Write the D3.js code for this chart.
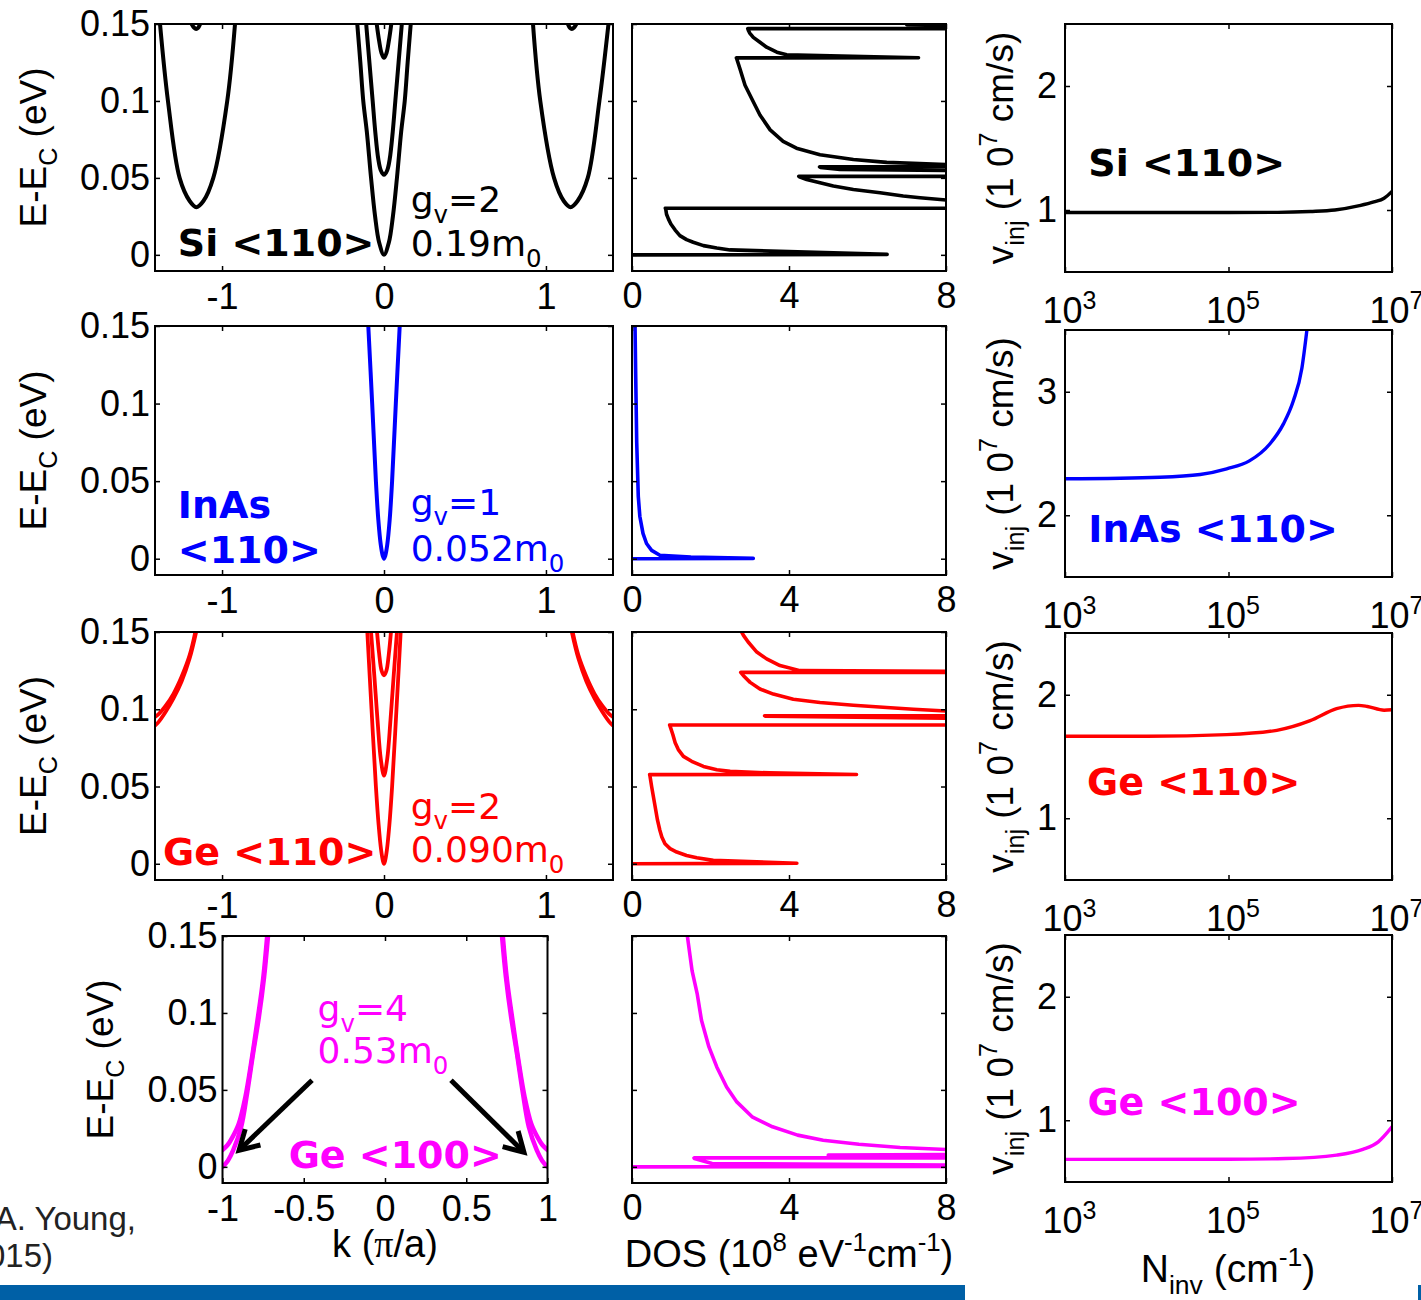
<!DOCTYPE html>
<html>
<head>
<meta charset="utf-8">
<script src="https://cdn.jsdelivr.net/npm/d3@7"></script>
<style>
  body { margin: 0; background: #fff; }
  svg { display: block; }
  .tick text { font-family: "Liberation Sans", Arial, sans-serif; font-size: 36px; fill: #000; }
  .tick line { stroke-width: 1.5px; }
  .lbl { font-family: "Liberation Sans", Arial, sans-serif; font-size: 37px; fill: #000; }
  .tag { font-family: "DejaVu Sans", Verdana, sans-serif; font-weight: bold; font-size: 38px; }
  .note { font-family: "DejaVu Sans", Verdana, sans-serif; font-size: 36px; }
  .cite { font-family: "Liberation Sans", Arial, sans-serif; font-size: 33px; fill: #222; }
</style>
</head>
<body>
<svg id="fig" width="1421" height="1300"></svg>
<script>
// ---------------- tick values ----------------
const eTicks = [0, 0.05, 0.1, 0.15];
const k110Ticks = [-1, 0, 1];
const k100Ticks = [-1, -0.5, 0, 0.5, 1];
const dosTicks = [0, 4, 8];
const nTicks = [1e3, 1e5, 1e7];
const vTicksSi = [1, 2];
const vTicksInAs = [2, 3];
const vTicksGe110 = [1, 2];
const vTicksGe100 = [1, 2];

// ---------------- E-k subbands: [k (pi/a), E-Ec (eV)] ----------------
// Si <110>
const siSub1 = [[-0.165,0.15],[-0.146,0.125],[-0.128,0.1],[-0.106,0.08],[-0.08,0.05],[-0.055,0.025],[-0.03,0.008],[0,0],
                [0.03,0.008],[0.055,0.025],[0.08,0.05],[0.106,0.08],[0.128,0.1],[0.146,0.125],[0.165,0.15]];
const siSub2 = [[-0.11,0.15],[-0.09,0.125],[-0.07,0.1],[-0.054,0.08],[-0.035,0.062],[-0.02,0.055],[0,0.052],
                [0.02,0.055],[0.035,0.062],[0.054,0.08],[0.07,0.1],[0.09,0.125],[0.11,0.15]];
const siSub3 = [[-0.045,0.15],[-0.03,0.139],[-0.015,0.131],[0,0.128],[0.015,0.131],[0.03,0.139],[0.045,0.15]];
const siSideL = [[-1.383,0.15],[-1.334,0.1],[-1.262,0.05],[-1.2,0.035],[-1.159,0.031],[-1.115,0.035],[-1.054,0.05],[-0.968,0.1],[-0.92,0.15]];
const siSideR = [[0.92,0.15],[0.965,0.1],[1.05,0.05],[1.11,0.035],[1.152,0.031],[1.195,0.035],[1.258,0.05],[1.33,0.1],[1.386,0.15]];
const siTopL = [[-1.188,0.15],[-1.172,0.1475],[-1.16,0.1468],[-1.148,0.1475],[-1.135,0.15]];
const siTopR = [[1.135,0.15],[1.148,0.1475],[1.16,0.1468],[1.172,0.1475],[1.188,0.15]];

// InAs <110>
const inasSub1 = [[-0.097,0.15],[-0.073,0.1],[-0.05,0.05],[-0.035,0.025],[-0.02,0.009],[-0.008,0.002],[0,0],
                  [0.008,0.002],[0.02,0.009],[0.035,0.025],[0.05,0.05],[0.073,0.1],[0.097,0.15]];

// Ge <110>
const geSub1 = [[-0.103,0.15],[-0.077,0.1],[-0.05,0.05],[-0.033,0.025],[-0.018,0.009],[-0.007,0.002],[0,0],
                [0.007,0.002],[0.018,0.009],[0.033,0.025],[0.05,0.05],[0.077,0.1],[0.103,0.15]];
const geSub2 = [[-0.08,0.15],[-0.06,0.122],[-0.04,0.093],[-0.02,0.068],[0,0.057],[0.02,0.068],[0.04,0.093],[0.06,0.122],[0.08,0.15]];
const geSub3 = [[-0.043,0.15],[-0.03,0.136],[-0.015,0.125],[0,0.122],[0.015,0.125],[0.03,0.136],[0.043,0.15]];
const geEdgeL1 = [[-1.414,0.0895],[-1.39,0.092],[-1.35,0.098],[-1.3,0.107],[-1.25,0.118],[-1.2,0.133],[-1.16,0.15]];
const geEdgeL2 = [[-1.414,0.095],[-1.39,0.097],[-1.35,0.102],[-1.3,0.11],[-1.25,0.121],[-1.2,0.135],[-1.165,0.15]];
const geEdgeR1 = [[1.16,0.15],[1.2,0.133],[1.25,0.118],[1.3,0.107],[1.35,0.098],[1.39,0.092],[1.414,0.0895]];
const geEdgeR2 = [[1.165,0.15],[1.2,0.135],[1.25,0.121],[1.3,0.11],[1.35,0.102],[1.39,0.097],[1.414,0.095]];

// Ge <100>
const ge100L1 = [[-1,0],[-0.967,0.004],[-0.934,0.0108],[-0.885,0.026],[-0.849,0.0476],[-0.812,0.0736],[-0.776,0.0974],[-0.744,0.1234],[-0.72,0.15]];
const ge100L2 = [[-1,0.011],[-0.97,0.014],[-0.94,0.019],[-0.9,0.028],[-0.86,0.045],[-0.82,0.07],[-0.785,0.095],[-0.75,0.122],[-0.725,0.15]];
const ge100R1 = [[0.72,0.15],[0.744,0.1234],[0.776,0.0974],[0.812,0.0736],[0.849,0.0476],[0.885,0.026],[0.934,0.0108],[0.967,0.004],[1,0]];
const ge100R2 = [[0.725,0.15],[0.75,0.122],[0.785,0.095],[0.82,0.07],[0.86,0.045],[0.9,0.028],[0.94,0.019],[0.97,0.014],[1,0.011]];

// ---------------- density of states: [DOS (1e8 /eV/cm), E-Ec (eV)] ----------------
const siDos = [[0,0],[6.5,0.0003],[2.5,0.0032],[2.16,0.0045],[1.82,0.006],[1.56,0.0082],[1.39,0.0099],[1.22,0.0125],[1.1,0.0161],
  [0.99,0.02],[0.93,0.0232],[0.88,0.0264],[0.86,0.0296],[0.85,0.0303],
  [9,0.0303],[9,0.0345],[8,0.0356],[7.34,0.0371],[6.91,0.0382],[6.32,0.0404],[5.64,0.0425],[5.13,0.0447],[4.79,0.0468],[4.45,0.049],[4.28,0.0505],[4.25,0.051],
  [9,0.051],[9,0.0545],[5.3,0.0555],[4.8,0.0568],[4.78,0.0572],[9,0.0572],[9,0.058],
  [8,0.0587],[6.49,0.0601],[5.64,0.0619],[4.79,0.0651],[4.19,0.0693],[3.85,0.0737],[3.52,0.0812],[3.26,0.0909],[3.09,0.0995],
  [2.88,0.1102],[2.75,0.1209],[2.67,0.1273],[2.66,0.128],
  [7.3,0.1281],[3.94,0.13],[3.69,0.1317],[3.43,0.1349],[3.26,0.1381],[3.09,0.1413],[3.0,0.1441],[2.97,0.1456],[2.95,0.147],
  [9,0.147],[9,0.1488],[7,0.1495],[9,0.1505]];
const inasDos = [[0,0],[3.09,0.0002],[1.5,0.001],[0.71,0.0022],[0.5,0.0054],[0.37,0.0098],[0.28,0.0163],[0.2,0.0272],
  [0.16,0.0402],[0.12,0.0751],[0.094,0.1185],[0.076,0.152]];
const geDos = [[0,0],[4.2,0.0003],[2.07,0.0022],[1.65,0.0039],[1.39,0.0054],[1.14,0.0076],[0.97,0.0098],[0.84,0.013],[0.76,0.0174],
  [0.71,0.0217],[0.65,0.0282],[0.59,0.0369],[0.5,0.05],[0.46,0.0565],[0.45,0.0577],
  [5.72,0.0578],[3.5,0.0588],[2.5,0.0598],[2.16,0.0609],[1.82,0.063],[1.52,0.0663],[1.31,0.0695],[1.18,0.0739],[1.1,0.0783],
  [1.04,0.0837],[0.97,0.0891],[0.96,0.0898],
  [9,0.0898],[9,0.094],[3.4,0.0955],[3.38,0.0958],[9,0.0958],[9,0.0985],
  [8,0.0989],[7.17,0.1],[6.49,0.1011],[5.64,0.1026],[4.79,0.1044],[4.11,0.1065],[3.6,0.1098],[3.26,0.1131],[3.01,0.1174],
  [2.84,0.1217],[2.77,0.1239],
  [9,0.1239],[9,0.1245],[4.28,0.125],[3.77,0.1283],[3.43,0.1326],[3.18,0.137],[2.96,0.1435],[2.84,0.1478],[2.75,0.152]];
const ge100Dos = [[0,0],[9,0.0002],[9,0.001],[2.04,0.0022],[1.59,0.0054],[1.58,0.0058],[9,0.0058],[9,0.0072],[5.0,0.0076],[9,0.0082],
  [9,0.0108],[8,0.0113],[6.83,0.0126],[5.78,0.0147],[4.87,0.0173],[4.22,0.0206],[3.58,0.026],[3.06,0.0325],[2.67,0.0422],
  [2.41,0.0519],[2.16,0.0649],[1.96,0.0779],[1.77,0.0953],[1.66,0.1126],[1.53,0.1275],[1.4,0.152]];

// ---------------- injection velocity: [N_inv (cm^-1), v_inj (1e7 cm/s)] ----------------
const siVinj = [[1e3,0.98],[1e4,0.98],[1e5,0.98],[4e5,0.981],[1e6,0.988],[2e6,1.0],[4e6,1.035],[6e6,1.065],[8e6,1.095],[1e7,1.15]];
const inasVinj = [[1e3,2.295],[1.45e4,2.308],[4.5e4,2.33],[9.5e4,2.376],[1.8e5,2.44],[3.2e5,2.577],[4.7e5,2.74],[6.2e5,2.925],[7.9e5,3.19],[9.1e5,3.5]];
const geVinj = [[1e3,1.664],[1e4,1.664],[9.5e4,1.677],[3.9e5,1.712],[1e6,1.79],[2.1e6,1.887],[3.9e6,1.914],[5e6,1.905],[8e6,1.875],[1e7,1.878]];
const ge100Vinj = [[1e3,0.683],[1e5,0.684],[5e5,0.69],[2.1e6,0.718],[4.4e6,0.764],[6.8e6,0.825],[1e7,0.946]];

// ---------------- annotation arrows in Ge <100> E-k panel: [k, E] ----------------
const arrowLeft = [[-0.449,0.0563],[-0.898,0.0108]];
const arrowRight = [[0.406,0.0563],[0.855,0.0095]];

// ---------------- drawing ----------------
const svg = d3.select("#fig");
const defs = svg.append("defs");
let clipCount = 0;

function frame(x, y, o) {
  const [x0, x1] = x.range();
  const [yb, yt] = y.range();
  const g = svg.append("g");
  const id = "clip" + (clipCount++);
  defs.append("clipPath").attr("id", id)
    .append("rect").attr("x", x0).attr("y", yt).attr("width", x1 - x0).attr("height", yb - yt);
  const plot = g.append("g").attr("clip-path", `url(#${id})`);
  const ax = (gen, tr) => g.append("g").attr("transform", tr).call(gen).call(s => s.select(".domain").remove());
  const bottom = ax(d3.axisBottom(x).tickValues(o.xTicks).tickSizeInner(-5).tickSizeOuter(0)
      .tickPadding(o.xPad).tickFormat(o.xFmt || (d => String(d))), `translate(0,${yb})`);
  ax(d3.axisTop(x).tickValues(o.xTicks).tickSizeInner(-5).tickSizeOuter(0).tickFormat(() => ""), `translate(0,${yt})`);
  ax(d3.axisLeft(y).tickValues(o.yTicks).tickSizeInner(-5).tickSizeOuter(0)
      .tickPadding(o.yPad || 6).tickFormat(o.yLabels ? (d => String(d)) : () => ""), `translate(${x0},0)`);
  ax(d3.axisRight(y).tickValues(o.yTicks).tickSizeInner(-5).tickSizeOuter(0).tickFormat(() => ""), `translate(${x1},0)`);
  g.append("rect").attr("x", x0).attr("y", yt).attr("width", x1 - x0).attr("height", yb - yt)
    .attr("fill", "none").attr("stroke", "#000").attr("stroke-width", 2);
  return { g, plot, bottom };
}

function rich(t, base, parts) {
  let cur = 0;
  for (const [s, kind, fam] of parts) {
    const off = kind === "sub" ? 0.3 * base : kind === "sup" ? -0.42 * base : 0;
    const ts = t.append("tspan").attr("dy", off - cur).text(s);
    cur = off;
    if (kind) ts.style("font-size", (0.68 * base) + "px");
    if (fam) ts.style("font-family", fam);
  }
  return t;
}

function drawLines(plot, x, y, list, color, width, curve) {
  const line = d3.line().x(d => x(d[0])).y(d => y(d[1])).curve(curve);
  plot.selectAll(null).data(list).join("path")
    .attr("d", line).attr("fill", "none").attr("stroke", color)
    .attr("stroke-width", width).attr("stroke-linejoin", "round").attr("stroke-linecap", "round");
}

const rows = [
  { top: 24,  bot: 271,  vTop: 24,  vBot: 272 },
  { top: 326, bot: 575,  vTop: 330, vBot: 577 },
  { top: 632, bot: 880,  vTop: 633, vBot: 880 },
  { top: 936, bot: 1183, vTop: 935, vBot: 1182 }
];
const eDomain = [-0.0105, 0.15];

const materials = [
  { color: "#000000", kDom: [-1.414, 1.414], kRange: [155, 613], kTicks: k110Ticks, lw: 4,
    bands: [siSub1, siSub2, siSub3, siSideL, siSideR, siTopL, siTopR],
    dos: siDos, vinj: siVinj, vDom: [0.5, 2.5], vTicks: vTicksSi },
  { color: "#0000ff", kDom: [-1.414, 1.414], kRange: [155, 613], kTicks: k110Ticks, lw: 4,
    bands: [inasSub1], dos: inasDos, vinj: inasVinj, vDom: [1.5, 3.5], vTicks: vTicksInAs },
  { color: "#ff0000", kDom: [-1.414, 1.414], kRange: [155, 613], kTicks: k110Ticks, lw: 3.8,
    bands: [geSub1, geSub2, geSub3, geEdgeL1, geEdgeL2, geEdgeR1, geEdgeR2],
    dos: geDos, vinj: geVinj, vDom: [0.5, 2.5], vTicks: vTicksGe110 },
  { color: "#ff00ff", kDom: [-1, 1], kRange: [222.5, 547.5], kTicks: k100Ticks, lw: 4.5,
    bands: [ge100L1, ge100L2, ge100R1, ge100R2], dos: ge100Dos, vinj: ge100Vinj, vDom: [0.5, 2.5], vTicks: vTicksGe100 }
];

const scales = materials.map((m, i) => {
  const r = rows[i];
  const kx = d3.scaleLinear().domain(m.kDom).range(m.kRange);
  const ey = d3.scaleLinear().domain(eDomain).range([r.bot, r.top]);
  const dx = d3.scaleLinear().domain([0, 8]).range([632, 946]);
  const nx = d3.scaleLog().domain([1e3, 1e7]).range([1065, 1392]);
  const vy = d3.scaleLinear().domain(m.vDom).range([r.vBot, r.vTop]);
  return { kx, ey, dx, nx, vy };
});

materials.forEach((m, i) => {
  const s = scales[i];
  const r = rows[i];
  // E-k panel
  const band = frame(s.kx, s.ey, { xTicks: m.kTicks, yTicks: eTicks, xPad: 12, yLabels: true, yPad: 5 });
  drawLines(band.plot, s.kx, s.ey, m.bands, m.color, m.lw, d3.curveCatmullRom.alpha(0.5));
  // DOS panel
  const dos = frame(s.dx, s.ey, { xTicks: dosTicks, yTicks: eTicks, xPad: 11 });
  drawLines(dos.plot, s.dx, s.ey, [m.dos], m.color, 3.6, d3.curveLinear);
  // injection velocity panel
  const vp = frame(s.nx, s.vy, { xTicks: nTicks, yTicks: m.vTicks, xPad: 25, yLabels: true, yPad: 8 });
  vp.bottom.selectAll(".tick text").each(function (d) {
    const t = d3.select(this).text(null).attr("dx", 4);
    t.append("tspan").text("10");
    t.append("tspan").attr("dy", -14).style("font-size", "25px").text(Math.round(Math.log10(d)));
  });
  drawLines(vp.plot, s.nx, s.vy, [m.vinj], m.color, 3.4, d3.curveMonotoneX);

  // E-Ec axis label
  const eLbl = svg.append("text").attr("class", "lbl").attr("text-anchor", "middle")
    .attr("transform", `translate(${m.kRange[0] - 109.5},${(r.top + r.bot) / 2}) rotate(-90)`);
  rich(eLbl, 37, [["E-E"], ["C", "sub"], [" (eV)"]]);
  // v_inj axis label
  const vLbl = svg.append("text").attr("class", "lbl").attr("text-anchor", "middle")
    .attr("transform", `translate(1013,${(r.vTop + r.vBot) / 2}) rotate(-90)`);
  rich(vLbl, 37, [["v"], ["inj", "sub"], [" (1 0"], ["7", "sup"], ["  cm/s)"]]);
});

// ---- panel annotations ----
function tag(x, y, str, color, cls) {
  return svg.append("text").attr("class", cls).attr("x", x).attr("y", y).attr("fill", color).text(str);
}
function massNote(s, k, e1, e2, gv, mass, color) {
  const t1 = svg.append("text").attr("class", "note").attr("x", s.kx(k)).attr("y", s.ey(e1)).attr("fill", color);
  rich(t1, 36, [["g"], ["v", "sub"], ["=" + gv]]);
  const t2 = svg.append("text").attr("class", "note").attr("x", s.kx(k)).attr("y", s.ey(e2)).attr("fill", color);
  rich(t2, 36, [[mass + "m"], ["0", "sub"]]);
}

// Si <110>
tag(scales[0].kx(-1.273), scales[0].ey(-0.001), "Si <110>", "#000", "tag");
massNote(scales[0], 0.165, 0.0276, -0.001, 2, "0.19", "#000");
tag(scales[0].nx(1.93e3), scales[0].vy(1.277), "Si <110>", "#000", "tag");
// InAs <110>
tag(scales[1].kx(-1.273), scales[1].ey(0.0262), "InAs", "#0000ff", "tag");
tag(scales[1].kx(-1.273), scales[1].ey(-0.0028), "<110>", "#0000ff", "tag");
massNote(scales[1], 0.165, 0.0284, -0.0017, 1, "0.052", "#0000ff");
tag(scales[1].nx(1.93e3), scales[1].vy(1.785), "InAs <110>", "#0000ff", "tag");
// Ge <110>
tag(scales[2].kx(-1.364), scales[2].ey(-0.0011), "Ge <110>", "#ff0000", "tag");
massNote(scales[2], 0.165, 0.0292, 0.001, 2, "0.090", "#ff0000");
tag(scales[2].nx(1.86e3), scales[2].vy(1.188), "Ge <110>", "#ff0000", "tag");
// Ge <100>
tag(scales[3].kx(-0.593), scales[3].ey(-0.0008), "Ge <100>", "#ff00ff", "tag");
massNote(scales[3], -0.415, 0.0946, 0.0673, 4, "0.53", "#ff00ff");
tag(scales[3].nx(1.88e3), scales[3].vy(1.04), "Ge <100>", "#ff00ff", "tag");

// arrows pointing at the Ge <100> valleys
[arrowLeft, arrowRight].forEach(a => {
  const s = scales[3];
  const [p0, p1] = a.map(d => [s.kx(d[0]), s.ey(d[1])]);
  const ang = Math.atan2(p1[1] - p0[1], p1[0] - p0[0]);
  const L = 22, spread = Math.PI / 6;
  const h1 = [p1[0] - L * Math.cos(ang - spread), p1[1] - L * Math.sin(ang - spread)];
  const h2 = [p1[0] - L * Math.cos(ang + spread), p1[1] - L * Math.sin(ang + spread)];
  svg.append("path").attr("d", `M${p0}L${p1}`).attr("stroke", "#000").attr("stroke-width", 5).attr("fill", "none");
  svg.append("path").attr("d", `M${h1}L${p1}L${h2}`).attr("stroke", "#000").attr("stroke-width", 5)
    .attr("fill", "none").attr("stroke-linejoin", "miter");
});

// bottom axis titles
const kLbl = svg.append("text").attr("class", "lbl").attr("text-anchor", "middle").attr("x", 385).attr("y", 1257)
  .style("font-size", "38px");
rich(kLbl, 38, [["k ("], ["\u03c0", null, "Liberation Serif"], ["/a)"]]);
const dLbl = svg.append("text").attr("class", "lbl").attr("text-anchor", "middle").attr("x", 789).attr("y", 1267)
  .style("font-size", "38px");
rich(dLbl, 38, [["DOS (10"], ["8", "sup"], [" eV"], ["-1", "sup"], ["cm"], ["-1", "sup"], [")"]]);
const nLbl = svg.append("text").attr("class", "lbl").attr("text-anchor", "middle").attr("x", 1228).attr("y", 1282)
  .style("font-size", "39px");
rich(nLbl, 39, [["N"], ["inv", "sub"], [" (cm"], ["-1", "sup"], [")"]]);

// citation fragment and slide bars
svg.append("text").attr("class", "cite").attr("text-anchor", "end").attr("x", 136).attr("y", 1230).text("A. Young,");
svg.append("text").attr("class", "cite").attr("text-anchor", "end").attr("x", 53).attr("y", 1267).text("(2015)");
svg.append("rect").attr("x", 0).attr("y", 1285).attr("width", 965).attr("height", 15).attr("fill", "#0060a6");
svg.append("rect").attr("x", 1418).attr("y", 1285).attr("width", 3).attr("height", 15).attr("fill", "#0060a6");
</script>
</body>
</html>
